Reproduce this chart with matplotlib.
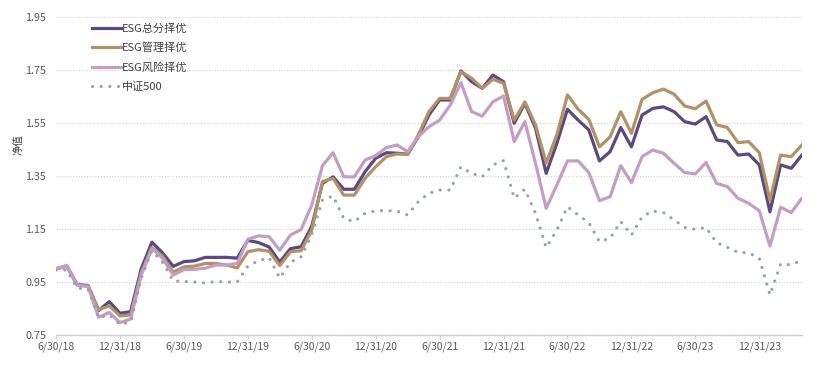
import numpy as np
import matplotlib
matplotlib.use('Agg')
import matplotlib.pyplot as plt

plt.rcParams['font.family'] = ['Noto Sans CJK SC', 'DejaVu Sans']

# monthly net values, 6/30/18 .. 4/30/24
esg_total = [1.00, 1.01, 0.94, 0.937, 0.842, 0.876, 0.832, 0.838, 1.00, 1.10,
             1.06, 1.009, 1.027, 1.03, 1.043, 1.043, 1.043, 1.04, 1.107, 1.099,
             1.082, 1.025, 1.076, 1.083, 1.16, 1.322, 1.347, 1.30, 1.30, 1.366,
             1.417, 1.438, 1.436, 1.432, 1.498, 1.58, 1.637, 1.637, 1.747, 1.706,
             1.681, 1.731, 1.706, 1.549, 1.624, 1.531, 1.36, 1.473, 1.602, 1.561,
             1.524, 1.407, 1.442, 1.533, 1.46, 1.58, 1.605, 1.611, 1.593, 1.555,
             1.546, 1.574, 1.486, 1.48, 1.429, 1.433, 1.392, 1.215, 1.392, 1.379,
             1.429]
esg_gov = [1.00, 1.01, 0.938, 0.935, 0.845, 0.86, 0.822, 0.826, 0.985, 1.08,
           1.048, 0.987, 1.007, 1.01, 1.02, 1.02, 1.014, 1.003, 1.064, 1.072,
           1.066, 1.012, 1.064, 1.068, 1.146, 1.329, 1.341, 1.278, 1.278, 1.341,
           1.385, 1.423, 1.433, 1.432, 1.505, 1.593, 1.643, 1.643, 1.744, 1.719,
           1.681, 1.715, 1.70, 1.561, 1.63, 1.543, 1.40, 1.505, 1.656, 1.602,
           1.564, 1.46, 1.498, 1.593, 1.511, 1.639, 1.664, 1.678, 1.659, 1.614,
           1.604, 1.633, 1.543, 1.533, 1.476, 1.48, 1.438, 1.259, 1.429, 1.423,
           1.467]
esg_risk = [1.00, 1.012, 0.938, 0.933, 0.817, 0.835, 0.797, 0.81, 0.976, 1.077,
            1.039, 0.976, 0.997, 0.998, 1.002, 1.014, 1.014, 1.02, 1.111, 1.124,
            1.121, 1.07, 1.127, 1.148, 1.24, 1.389, 1.438, 1.347, 1.347, 1.41,
            1.427, 1.457, 1.467, 1.442, 1.498, 1.536, 1.561, 1.618, 1.702, 1.593,
            1.576, 1.63, 1.652, 1.48, 1.555, 1.398, 1.228, 1.316, 1.407, 1.407,
            1.363, 1.257, 1.272, 1.389, 1.325, 1.423, 1.448, 1.436, 1.398, 1.363,
            1.358, 1.401, 1.322, 1.31, 1.266, 1.247, 1.219, 1.086, 1.232, 1.212,
            1.266]
csi500 = [0.995, 0.995, 0.927, 0.923, 0.815, 0.826, 0.79, 0.80, 0.965, 1.068,
          1.024, 0.954, 0.952, 0.95, 0.946, 0.952, 0.95, 0.95, 1.01, 1.03,
          1.042, 0.965, 1.025, 1.045, 1.13, 1.259, 1.275, 1.19, 1.178, 1.209,
          1.219, 1.219, 1.218, 1.203, 1.253, 1.285, 1.297, 1.297, 1.385, 1.36,
          1.347, 1.392, 1.408, 1.266, 1.30, 1.209, 1.08, 1.146, 1.234, 1.203,
          1.174, 1.102, 1.115, 1.178, 1.127, 1.196, 1.218, 1.212, 1.184, 1.156,
          1.149, 1.156, 1.098, 1.081, 1.062, 1.06, 1.039, 0.901, 1.018, 1.015,
          1.033]

tick_labels = ['6/30/18', '12/31/18', '6/30/19', '12/31/19', '6/30/20', '12/31/20',
               '6/30/21', '12/31/21', '6/30/22', '12/31/22', '6/30/23', '12/31/23']
y_ticks = [0.75, 0.95, 1.15, 1.35, 1.55, 1.75, 1.95]

x = np.arange(len(esg_total))

fig = plt.figure(figsize=(8.31, 3.70), dpi=100)
ax = fig.add_axes([0.0674, 0.0946, 0.8976, 0.8594])

ax.plot(x, esg_total, color='#5a4a7e', lw=2.3, label='ESG总分择优')
ax.plot(x, esg_gov, color='#b39166', lw=2.3, label='ESG管理择优')
ax.plot(x, esg_risk, color='#c49dc4', lw=2.3, label='ESG风险择优')
ax.plot(x, csi500, color='#8fa3b3', lw=2.3, linestyle=(0, (0.01, 2.7)),
        dash_capstyle='round', label='中证500')

ax.set_xlim(0, 70)
ax.set_ylim(0.75, 1.95)
ax.set_yticks(y_ticks)
ax.set_yticklabels(['%.2f' % v for v in y_ticks])
ax.set_xticks(np.arange(0, 70, 6))
ax.set_xticklabels(tick_labels)

ax.grid(axis='y', color='#d0d0d0', linestyle=(0, (1, 1.5)), linewidth=0.8)
ax.set_axisbelow(True)
for s in ['top', 'right', 'left']:
    ax.spines[s].set_visible(False)
ax.spines['bottom'].set_color('#d0d0d0')
ax.spines['bottom'].set_linewidth(1.0)
ax.tick_params(axis='y', length=0, labelsize=7.8, labelcolor='#595959', pad=7)
ax.tick_params(axis='x', length=3, color='#d0d0d0', labelsize=7.5,
               labelcolor='#595959', pad=2)

ax.set_ylabel('净值', fontsize=7.5, color='#404040')
ax.yaxis.set_label_coords(-0.043, 0.6)

ax.legend(loc='upper left', bbox_to_anchor=(0.035, 1.012), frameon=False,
          fontsize=8, handlelength=2.6, handletextpad=0.1, labelspacing=0.8,
          labelcolor='#404040')

fig.savefig('out.png', dpi=100)
